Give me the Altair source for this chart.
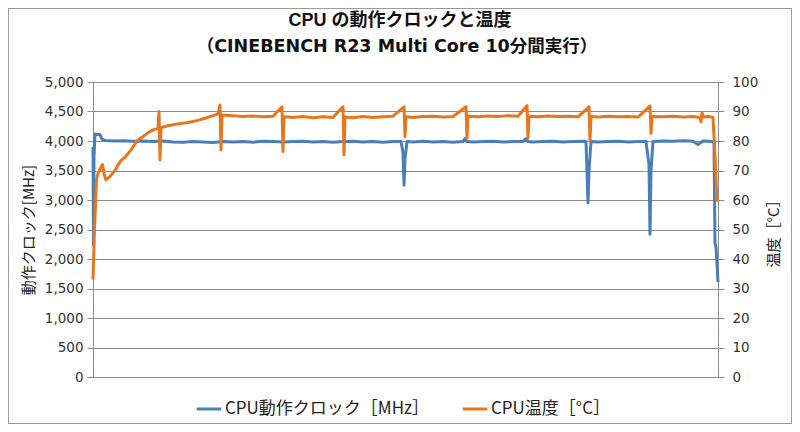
import altair as alt
import pandas as pd

# ---- data (time index along the run) ----
clock_t = [0, 0.5, 1, 2, 4, 7, 9, 12, 20, 30,
           40, 50, 60, 70, 80, 90, 100, 110, 120, 130,
           140, 150, 160, 170, 180, 190, 200, 210, 220, 230,
           240, 250, 260, 270, 280, 290, 300, 308, 310, 311,
           312, 314, 320, 330, 340, 350, 360, 370, 372, 374,
           380, 390, 400, 410, 420, 430, 433, 435, 440, 450,
           460, 470, 480, 490, 493, 495, 496, 498, 505, 515,
           525, 535, 545, 553, 556, 557, 558, 560, 570, 580,
           590, 600, 605, 610, 615, 619, 621, 622, 623, 625]
clock_v = [3900, 2230, 3750, 4120, 4110, 4110, 4030, 4010, 4000, 4005,
           3995, 4000, 3990, 4000, 3985, 3980, 3990, 3985, 3975, 3990,
           3985, 3990, 3980, 3995, 3990, 3985, 3990, 3995, 3985, 3990,
           3980, 3990, 3995, 3985, 3990, 3980, 3990, 3990, 3800, 3250,
           3700, 3990, 3985, 3995, 3985, 3990, 3980, 3990, 4040, 3990,
           3985, 3990, 3995, 3985, 3990, 3990, 4040, 3990, 3985, 3990,
           3995, 3985, 3990, 3995, 3990, 2950, 3500, 3990, 3985, 3990,
           3995, 3985, 3990, 3990, 3600, 2420, 3500, 3990, 4000, 3995,
           4005, 3995, 3940, 4000, 3995, 3990, 3980, 2270, 2200, 1610]

temp_t = [0, 1.5, 3.5, 5, 7, 9.5, 11, 13, 17, 22,
          27, 32, 38, 44, 50, 56, 62, 65, 66, 67,
          68, 75, 85, 95, 105, 113, 120, 125, 127, 128,
          129, 140, 150, 160, 170, 180, 189, 190, 191, 200,
          210, 220, 230, 240, 250, 251, 252, 260, 270, 280,
          290, 300, 311, 312, 313, 320, 330, 340, 350, 360,
          373, 374, 375, 385, 395, 405, 415, 425, 434, 435,
          436, 445, 455, 465, 475, 485, 496, 497, 498, 505,
          515, 525, 535, 545, 557, 558, 559, 570, 580, 590,
          600, 607, 608, 609, 610, 616, 620, 622, 624]
temp_v = [33, 50, 67, 69, 70.5, 72, 69, 66.8, 68, 70,
          73, 74.5, 77, 80, 81.5, 83, 84, 84.3, 90, 73.6,
          84.5, 85.2, 85.8, 86.3, 87, 87.8, 88.6, 89.2, 92.2, 77,
          88.8, 88.6, 88.3, 88.5, 88.2, 88.4, 91.6, 76.4, 88.2, 88.0,
          88.3, 87.9, 88.2, 88.0, 91.6, 75.3, 88.1, 87.9, 88.3, 88.0,
          88.2, 88.4, 91.6, 81.5, 88.2, 88.0, 88.3, 88.4, 88.1, 88.3,
          91.6, 81.0, 88.4, 88.2, 88.5, 88.3, 88.6, 88.4, 92.0, 81.0,
          88.4, 88.2, 88.5, 88.3, 88.4, 88.2, 91.6, 80.3, 88.3, 88.1,
          88.4, 88.2, 88.3, 88.1, 91.9, 82.6, 88.3, 88.2, 88.4, 88.1,
          88.3, 88.0, 86.5, 89.6, 88.2, 88.3, 88.0, 75, 59.4]

series_names = ["CPU動作クロック［MHz］", "CPU温度［°C］"]
series_colors = ["#4a7ebb", "#e8761c"]
clock_ticks = list(range(0, 5001, 500))
temp_ticks = list(range(0, 101, 10))
title_lines = ["CPU の動作クロックと温度", "（CINEBENCH R23 Multi Core 10分間実行）"]
left_title = "動作クロック[MHz]"
right_title = "温度［°C］"

clock_df = pd.DataFrame({"t": clock_t, "v": clock_v, "s": series_names[0]})
temp_df = pd.DataFrame({"t": temp_t, "v": temp_v, "s": series_names[1]})
title1_df = pd.DataFrame({"line": [title_lines[0]]})
title2_df = pd.DataFrame({"line": [title_lines[1]]})

FONT = "Noto Sans CJK JP"
TFONT1 = "Liberation Sans, Noto Sans CJK JP"
TFONT2 = "DejaVu Sans, Noto Sans CJK JP"
NUMFONT = "DejaVu Sans"
GRAY = "#8c8c8c"

xscale = alt.Scale(domain=[0, 625], nice=False, zero=False)
color = alt.Color("s:N", scale=alt.Scale(domain=series_names, range=series_colors),
                  legend=alt.Legend(title=None, orient="none", legendX=102, legendY=313,
                                    direction="horizontal", symbolType="stroke",
                                    symbolStrokeWidth=3, symbolSize=600, labelLimit=400,
                                    labelFontSize=17, labelFont=FONT, labelColor="#222",
                                    columnPadding=26, symbolOffset=0, labelOffset=2))

clock_line = alt.Chart(clock_df).mark_line(strokeWidth=3, strokeJoin="round").encode(
    x=alt.X("t:Q", scale=xscale, axis=None),
    y=alt.Y("v:Q", scale=alt.Scale(domain=[0, 5000], nice=False),
            axis=alt.Axis(values=clock_ticks, format=",.0f", title=left_title,
                          grid=True, gridColor=GRAY, domainColor=GRAY, tickColor=GRAY,
                          tickSize=6, labelFontSize=13.5, labelFont=NUMFONT, labelColor="#333",
                          labelPadding=4, titleFont=FONT, titleFontSize=15,
                          titleFontWeight="normal", titleColor="#222", titlePadding=8)),
    color=color,
    order="t:Q",
)

temp_line = alt.Chart(temp_df).mark_line(strokeWidth=3, strokeJoin="round").encode(
    x=alt.X("t:Q", scale=xscale, axis=None),
    y=alt.Y("v:Q", scale=alt.Scale(domain=[0, 100], nice=False),
            axis=alt.Axis(values=temp_ticks, orient="right", title=right_title,
                          grid=False, domainColor=GRAY, tickColor=GRAY,
                          tickSize=6, labelFontSize=13.5, labelFont=NUMFONT, labelColor="#333",
                          labelPadding=8, titleFont=FONT, titleFontSize=15,
                          titleFontWeight="normal", titleColor="#222", titleAngle=270,
                          titlePadding=24)),
    color=color,
    order="t:Q",
)

title1 = alt.Chart(title1_df).mark_text(
    font=TFONT1, fontSize=18, fontWeight="bold", color="#111", align="center", baseline="middle"
).encode(text="line:N", x=alt.value(307), y=alt.value(-61))
title2 = alt.Chart(title2_df).mark_text(
    font=TFONT2, fontSize=17.5, fontWeight="bold", color="#111", align="center", baseline="middle"
).encode(text="line:N", x=alt.value(304), y=alt.value(-35))

frame = alt.Chart(clock_df).mark_rect(fill=None, stroke="#9a9a9a", strokeWidth=1).encode(
    x=alt.value(-84.5), x2=alt.value(698.5), y=alt.value(-73.5), y2=alt.value(341.5)
)

chart = alt.layer(clock_line, temp_line, title1, title2, frame).resolve_scale(
    y="independent"
).properties(
    width=625, height=295,
    autosize=alt.AutoSizeParams(type="none"),
    padding={"left": 85, "top": 74, "right": 74, "bottom": 47},
).configure_view(stroke=None).configure(background="white")

chart.save("out.html", embed_options={"renderer": "svg", "actions": False})
